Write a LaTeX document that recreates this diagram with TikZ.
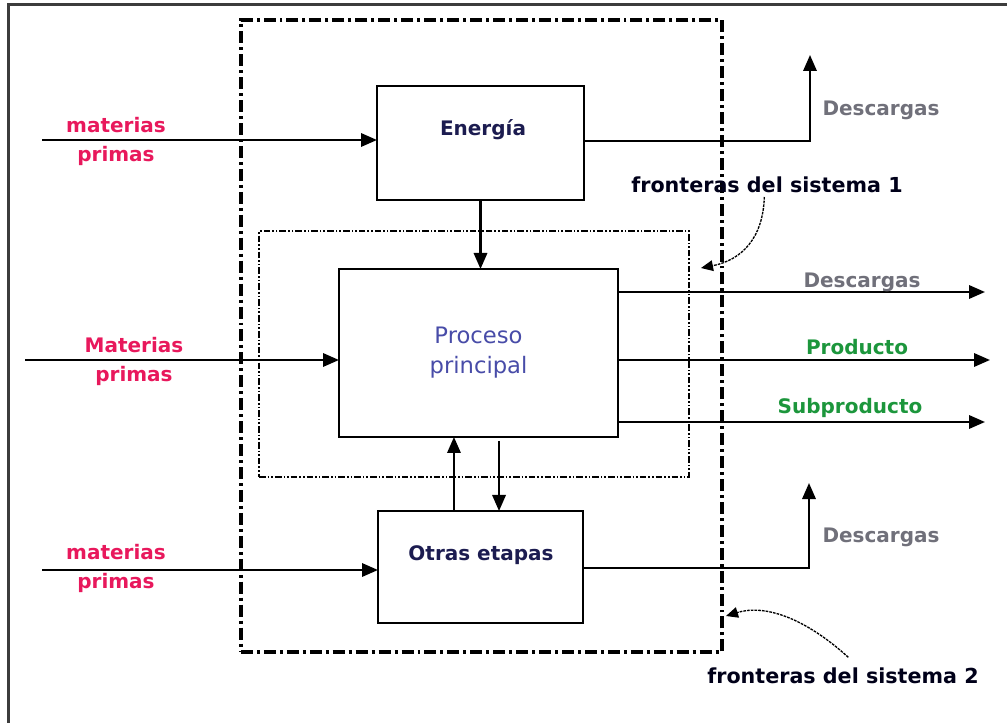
\documentclass[tikz,border=0pt]{standalone}
\usepackage{fontspec}
\setmainfont{DejaVu Sans}
\usetikzlibrary{arrows.meta}
\definecolor{rawpink}{RGB}{232,24,92}
\definecolor{outgray}{RGB}{112,112,122}
\definecolor{prodgreen}{RGB}{28,150,60}
\definecolor{boxnavy}{RGB}{28,28,80}
\definecolor{procblue}{RGB}{72,76,168}
\definecolor{framegray}{RGB}{60,60,60}
\begin{document}
\begin{tikzpicture}[x=0.75pt,y=-0.75pt,
  every node/.style={inner sep=0pt, outer sep=0pt},
  flow/.style={line width=1.7pt, -{Triangle[length=12pt,width=10pt]}},
  stagebox/.style={draw, line width=1.7pt},
  sysouter/.style={draw, line width=2.8pt, dash pattern=on 9pt off 3pt on 2.2pt off 3pt},
  sysinner/.style={draw, line width=1.4pt, dash pattern=on 5pt off 1.5pt on 1.2pt off 1.5pt on 1.2pt off 1.5pt},
  pointer/.style={line width=1pt, dash pattern=on 2pt off 0.8pt, -{Triangle[length=9pt,width=8pt]}},
  lbl/.style={font=\fontsize{15}{21.75}\selectfont\bfseries, align=center},
  rawlbl/.style={lbl, text=rawpink},
  outlbl/.style={lbl, text=outgray},
  prodlbl/.style={lbl, text=prodgreen},
  bndlbl/.style={lbl, font=\fontsize{15.5}{21.75}\selectfont\bfseries, text=black!90!blue}
]
\useasboundingbox (0,0) rectangle (1007,723);

% page frame (left and top edges)
\draw[framegray, line width=1.8pt] (8.5,723) -- (8.5,4.5) -- (1007,4.5);

% system boundaries
\node[sysouter, minimum width=360.75pt, minimum height=474pt] (sys2) at (481.5,336) {};
\node[sysinner, minimum width=322.5pt, minimum height=184.5pt] (sys1) at (474,354) {};

% stages
\node[stagebox, minimum width=155.25pt, minimum height=85.5pt] (E) at (480.5,143) {};
\node[lbl, text=boxnavy] (Et) at (483,130) {Energía};
\node[stagebox, minimum width=209.25pt, minimum height=126pt,
      font=\fontsize{17}{22.5}\selectfont, text=procblue, align=center] (P) at (478.5,353) {Proceso\\principal};
\node[stagebox, minimum width=153.75pt, minimum height=84pt] (O) at (480.5,567) {};
\node[lbl, text=boxnavy] (Ot) at (481,555) {Otras etapas};

% raw material inputs
\coordinate (in1) at (42,140);
\coordinate (in2) at (25,360);
\coordinate (in3) at (42,570);
\draw[flow] (in1) -- (in1 -| E.west);
\draw[flow] (in2) -- (in2 -| P.west);
\draw[flow] (in3) -- (in3 -| O.west);
\node[rawlbl] (m1) at (116,141.5) {materias\\primas};
\node[rawlbl] (m2) at (134,361) {Materias\\primas};
\node[rawlbl] (m3) at (116,568) {materias\\primas};

% internal flows
\draw[flow] (E.south) -- (E.south |- P.north);
\coordinate (up1) at ([xshift=-19.9pt]O.north);
\draw[flow] (up1) -- (up1 |- P.south);
\coordinate (dn1) at ([xshift=15.4pt,yshift=-3pt]P.south);
\draw[flow] (dn1) -- (dn1 |- O.north);

% outputs
\coordinate (d1) at (810,55);
\coordinate (d2) at (985,292);
\coordinate (d3) at (990,360);
\coordinate (d4) at (985,422);
\coordinate (d5) at (809,483);
\draw[flow] (E.east |- 0,141) -| (d1);
\draw[flow] (P.east |- d2) -- (d2);
\draw[flow] (P.east |- d3) -- (d3);
\draw[flow] (P.east |- d4) -- (d4);
\draw[flow] (O.east |- 0,568) -| (d5);
\node[outlbl] (o1) at (881,110) {Descargas};
\node[outlbl] (o2) at (862,282) {Descargas};
\node[prodlbl] (o3) at (857,347) {Producto};
\node[prodlbl] (o4) at (850,408) {Subproducto};
\node[outlbl] (o5) at (881,537) {Descargas};

% boundary labels and pointers
\node[bndlbl] (F1) at (767,185) {fronteras del sistema 1};
\node[bndlbl] (F2) at (843,676) {fronteras del sistema 2};
\coordinate (f1tip) at (701,268);
\coordinate (f2tip) at (726,616);
\draw[pointer] ([xshift=-2pt,yshift=-3pt]F1.south) .. controls (763,238) and (742,260) .. (f1tip);
\draw[pointer] ([xshift=4pt,yshift=8pt]F2.north) .. controls (805,618) and (765,604) .. (f2tip);
\end{tikzpicture}
\end{document}
